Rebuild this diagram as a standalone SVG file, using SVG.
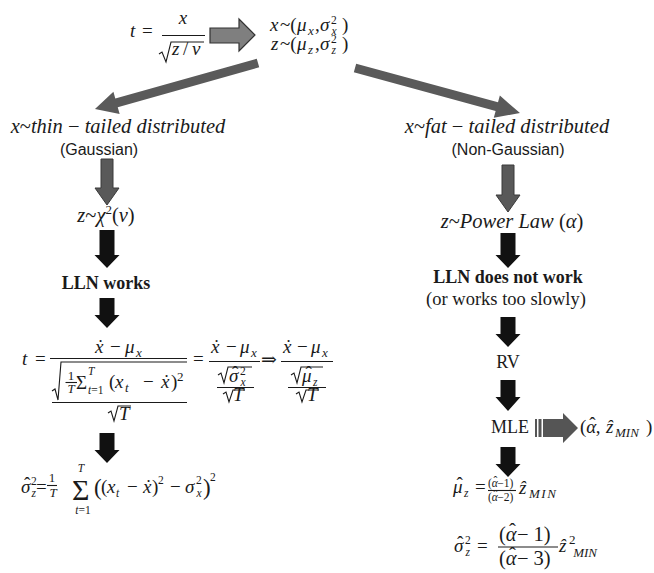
<svg xmlns="http://www.w3.org/2000/svg" width="654" height="573" viewBox="0 0 654 573">
<style>
text{font-family:"Liberation Serif","DejaVu Serif",serif;font-size:19px;fill:#1a1a1a}
.i{font-style:italic}
.n{font-style:normal}
.L{font-size:20.5px}
.s{font-family:"Liberation Sans","Open Sans",sans-serif;font-size:16px}
.b{font-weight:bold;font-size:18px}
.sm{font-size:13px}
.xs{font-size:11.5px}
.c{text-anchor:middle}
.ln{stroke:#1a1a1a;stroke-width:1.1;fill:none}
.blk{fill:#111}
.gry{fill:#595959;stroke:#3a3a3a;stroke-width:1}
.dg{fill:#5a5a5a}
</style>
<rect width="654" height="573" fill="#ffffff"/>
<g id="connectors">
  <path d="M210,28 H239 V19 L255,35 L239,51 V43 H210 Z" fill="#7f7f7f" stroke="#333" stroke-width="1.2"/>
  <path class="dg" transform="translate(258,63) rotate(164.24)" d="M0,-4.5 H147 V-11.5 L169.4,0 L147,11.5 V4.5 H0 Z"/>
  <path class="dg" transform="translate(355,68) rotate(15.26)" d="M0,-4.5 H147 V-11.5 L171,0 L147,11.5 V4.5 H0 Z"/>
  <path class="gry" d="M101,159 H113 V188 H119 L107,205 L95,188 H101 Z"/>
  <path class="gry" d="M502,165 H514 V195 H520 L508,212 L496,195 H502 Z"/>
  <path class="blk" d="M99.5,230 H114.5 V255 H119.5 L107,268 L94.5,255 H99.5 Z"/>
  <path class="blk" d="M99.5,298 H114.5 V315 H119.5 L107,328 L94.5,315 H99.5 Z"/>
  <path class="blk" d="M99.5,433 H114.5 V450 H119.5 L107,463 L94.5,450 H99.5 Z"/>
  <path class="blk" d="M500.5,233 H515.5 V255 H520.5 L508,268 L495.5,255 H500.5 Z"/>
  <path class="blk" d="M500.5,317 H515.5 V334 H520.5 L508,347 L495.5,334 H500.5 Z"/>
  <path class="blk" d="M500.5,380 H515.5 V397 H520.5 L508,411 L495.5,397 H500.5 Z"/>
  <path class="blk" d="M500.5,447 H515.5 V464 H520.5 L508,477 L495.5,464 H500.5 Z"/>
  <g fill="#555">
    <rect x="535" y="419" width="2" height="18"/>
    <rect x="538.5" y="419" width="3" height="18"/>
    <path d="M543,419 H563 V413 L578,428 L563,443 V437 H543 Z"/>
  </g>
</g>

<g id="n-tstat">
  <text x="130" y="37" class="i">t</text>
  <text x="142" y="37">=</text>
  <text x="183" y="24" class="i c">x</text>
  <line class="ln" x1="162" y1="35.5" x2="205" y2="35.5"/>
  <path class="ln" d="M159,54 L162,52 L166,62 L171,42 H204"/>
  <text x="172" y="55" class="i">z</text>
  <text x="183" y="55">/</text>
  <text x="192" y="55" class="i">v</text>
</g>

<g id="n-moments">
  <text x="270" y="31" class="i">x</text>
  <text x="280" y="31">~(</text>
  <text x="297" y="31" class="i">μ</text>
  <text x="308" y="35" class="sm i">x</text>
  <text x="315" y="31">,</text>
  <text x="320" y="31" class="i">σ</text>
  <text x="331" y="35" class="xs i">x<tspan class="n" dx="-5.5" dy="-11">2</tspan></text>
  <text x="342" y="31">)</text>
  <text x="271" y="50" class="i">z</text>
  <text x="280" y="50">~(</text>
  <text x="297" y="50" class="i">μ</text>
  <text x="308" y="54" class="sm i">z</text>
  <text x="315" y="50">,</text>
  <text x="320" y="50" class="i">σ</text>
  <text x="331" y="54" class="xs i">z<tspan class="n" dx="-5" dy="-11">2</tspan></text>
  <text x="342" y="50">)</text>
</g>

<g id="n-thin">
  <text x="118" y="133" class="c L"><tspan class="i">x</tspan>~<tspan class="i">thin</tspan> − <tspan class="i">tailed distributed</tspan></text>
  <text x="99" y="155" class="s c">(Gaussian)</text>
</g>

<g id="n-fat">
  <text x="507" y="133" class="c L"><tspan class="i">x</tspan>~<tspan class="i">fat</tspan> − <tspan class="i">tailed distributed</tspan></text>
  <text x="508" y="155" class="s c">(Non-Gaussian)</text>
</g>

<g id="n-chi">
  <text x="106" y="222" class="c L"><tspan class="i">z</tspan>~<tspan class="i">χ</tspan><tspan class="sm" dy="-8">2</tspan><tspan dy="8">(</tspan><tspan class="i">v</tspan>)</text>
</g>

<g id="n-lln">
  <text x="106" y="289" class="b c">LLN works</text>
</g>

<g id="n-tformula">
  <text x="22" y="365" class="i">t</text>
  <text x="35" y="365">=</text>
  <text x="95" y="353" class="i">ẋ</text>
  <text x="110" y="353">−</text>
  <text x="125" y="353" class="i">μ</text>
  <text x="136" y="357" class="sm i">x</text>
  <line class="ln" x1="50" y1="358.5" x2="187" y2="358.5"/>
  <path class="ln" d="M52,391 L55,389 L58,400 L61,362 H187"/>
  <text x="71" y="380" class="sm c">1</text>
  <line class="ln" x1="65.5" y1="382.5" x2="77" y2="382.5"/>
  <text x="71" y="393" class="sm i c">T</text>
  <text x="76" y="389">Σ</text>
  <text x="88" y="375" class="xs i">T</text>
  <text x="88" y="394" class="xs"><tspan class="i">t</tspan>=1</text>
  <text x="109" y="388">(</text>
  <text x="115" y="388" class="i">x</text>
  <text x="125" y="392" class="sm i">t</text>
  <text x="143" y="388">−</text>
  <text x="161" y="388" class="i">ẋ</text>
  <text x="171" y="388">)</text>
  <text x="177" y="381" class="sm">2</text>
  <line class="ln" x1="52" y1="402.5" x2="187" y2="402.5"/>
  <path class="ln" d="M108,413 L111,411 L114,421 L118,406 H131"/>
  <text x="119" y="420" class="i">T</text>
  <text x="193" y="365">=</text>
  <text x="211" y="353" class="i">ẋ</text>
  <text x="226" y="353">−</text>
  <text x="240" y="353" class="i">μ</text>
  <text x="251" y="357" class="sm i">x</text>
  <line class="ln" x1="209" y1="361.5" x2="260" y2="361.5"/>
  <path class="ln" d="M218,375 L221,373 L224,383 L228,367 H252"/>
  <text x="229" y="382" class="i">σ<tspan class="n" dx="-6.5" dy="-3">ˆ</tspan></text>
  <text x="240" y="386" class="xs i">x<tspan class="n" dx="-5.5" dy="-11">2</tspan></text>
  <line class="ln" x1="217" y1="387.5" x2="254" y2="387.5"/>
  <path class="ln" d="M223,394 L226,392 L229,402 L233,390 H245"/>
  <text x="233" y="401" class="i">T</text>
  <text x="261" y="366">⇒</text>
  <text x="283" y="353" class="i">ẋ</text>
  <text x="297" y="353">−</text>
  <text x="311" y="353" class="i">μ</text>
  <text x="322" y="357" class="sm i">x</text>
  <line class="ln" x1="281" y1="361.5" x2="333" y2="361.5"/>
  <path class="ln" d="M291,375 L294,373 L297,383 L301,367 H323"/>
  <text x="302" y="382" class="i">μ<tspan class="n" dx="-6" dy="-3">ˆ</tspan></text>
  <text x="313" y="386" class="xs i">z</text>
  <line class="ln" x1="288" y1="387.5" x2="326" y2="387.5"/>
  <path class="ln" d="M296,394 L299,392 L302,402 L306,390 H319"/>
  <text x="307" y="401" class="i">T</text>
</g>

<g id="n-sigma-left">
  <text x="21" y="493" class="i">σ<tspan class="n" dx="-6.5" dy="-3">ˆ</tspan></text>
  <text x="31" y="497" class="xs i">z<tspan class="n" dx="-5" dy="-12">2</tspan></text>
  <text x="36" y="493">=</text>
  <text x="52" y="482" class="sm c">1</text>
  <line class="ln" x1="47" y1="485.5" x2="57" y2="485.5"/>
  <text x="53" y="497" class="sm i c">T</text>
  <text x="72" y="500" style="font-size:30px">Σ</text>
  <text x="81" y="472" class="xs i c">T</text>
  <text x="83" y="514" class="xs c"><tspan class="i">t</tspan>=1</text>
  <text x="94" y="495" style="font-size:23px">(</text>
  <text x="101" y="493">(</text>
  <text x="107" y="493" class="i">x</text>
  <text x="116" y="497" class="xs i">t</text>
  <text x="127" y="493">−</text>
  <text x="143" y="493" class="i">ẋ</text>
  <text x="152" y="493">)</text>
  <text x="158" y="484" class="xs">2</text>
  <text x="170" y="493">−</text>
  <text x="185" y="493" class="i">σ</text>
  <text x="196" y="497" class="xs i">x<tspan class="n" dx="-5.5" dy="-13">2</tspan></text>
  <text x="203" y="495" style="font-size:23px">)</text>
  <text x="210" y="481" class="xs">2</text>
</g>

<g id="n-power">
  <text x="512" y="228" class="c L"><tspan class="i">z</tspan>~<tspan class="i">Power Law</tspan> (<tspan class="i">α</tspan>)</text>
</g>

<g id="n-llnnot">
  <text x="508" y="283" class="b c">LLN does not work</text>
  <text x="506" y="305" class="c" style="font-size:18.5px">(or works too slowly)</text>
</g>

<g id="n-rv">
  <text x="508" y="368" class="c" style="font-size:18px">RV</text>
</g>

<g id="n-mle">
  <text x="510" y="433" class="c" style="font-size:18px">MLE</text>
</g>

<g id="n-estimates">
  <text x="580" y="433">(<tspan class="i">α</tspan><tspan dx="-7" dy="-3">ˆ</tspan><tspan dy="3">,</tspan></text>
  <text x="606" y="433" class="i">ẑ</text>
  <text x="615" y="437" class="sm i">MIN</text>
  <text x="646" y="433">)</text>
</g>

<g id="n-mu-right">
  <text x="453" y="493" class="i">μ<tspan class="n" dx="-6" dy="-3">ˆ</tspan></text>
  <text x="464" y="497" class="xs i">z</text>
  <text x="475" y="493">=</text>
  <text x="488" y="487" class="xs">(<tspan class="i">α</tspan><tspan dx="-4.5" dy="-2">ˆ</tspan><tspan dy="2">−1)</tspan></text>
  <line class="ln" x1="488" y1="490.5" x2="516" y2="490.5"/>
  <text x="488" y="501" class="xs">(<tspan class="i">α</tspan><tspan dx="-4.5" dy="-2">ˆ</tspan><tspan dy="2">−2)</tspan></text>
  <text x="519" y="494" class="i">ẑ</text>
  <text x="529" y="498" class="sm i" style="letter-spacing:1.5px">MIN</text>
</g>

<g id="n-sigma-right">
  <text x="454" y="552" class="i">σ<tspan class="n" dx="-6.5" dy="-3">ˆ</tspan></text>
  <text x="465" y="556" class="xs i">z<tspan class="n" dx="-5" dy="-12">2</tspan></text>
  <text x="477" y="552">=</text>
  <text x="499" y="541" class="L">(<tspan class="i">α</tspan><tspan dx="-7.5" dy="-3">ˆ</tspan><tspan dx="1" dy="3">− 1)</tspan></text>
  <line class="ln" x1="498" y1="547" x2="558" y2="547"/>
  <text x="499" y="565" class="L">(<tspan class="i">α</tspan><tspan dx="-7.5" dy="-3">ˆ</tspan><tspan dx="1" dy="3">− 3)</tspan></text>
  <text x="559" y="552" class="i">ẑ</text>
  <text x="569" y="557" class="sm i">MIN<tspan class="n" dx="-28" dy="-13">2</tspan></text>
</g>
</svg>
